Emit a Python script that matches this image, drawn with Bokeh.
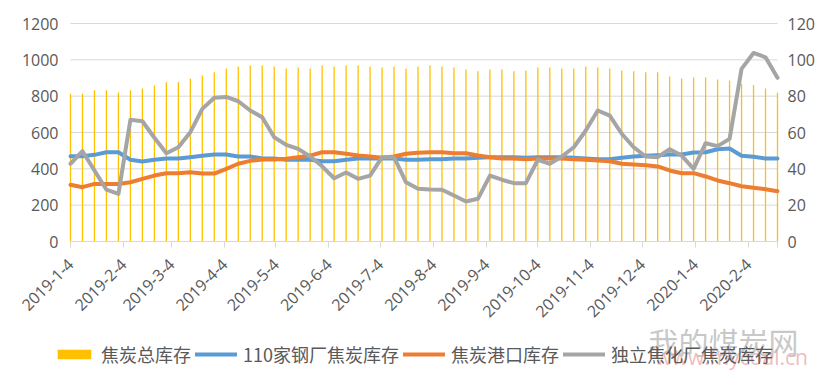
import math
import pandas as pd
from bokeh.plotting import figure
from bokeh.models import (Range1d, LinearAxis, FixedTicker, Legend, LegendItem,
                          Label, ColumnDataSource)
from bokeh.embed import file_html
from bokeh.resources import INLINE

# ---------------- data ----------------
start_date = "2019-01-04"
n_weeks = 60
week_dates = pd.date_range(start_date, periods=n_weeks, freq="7D")

tick_labels = ["2019-1-4", "2019-2-4", "2019-3-4", "2019-4-4", "2019-5-4", "2019-6-4",
               "2019-7-4", "2019-8-4", "2019-9-4", "2019-10-4", "2019-11-4", "2019-12-4",
               "2020-1-4", "2020-2-4"]

total_stock = [813, 813, 833, 833, 820, 833, 842, 859, 877, 877, 897, 914, 932, 952, 963,
               969, 969, 963, 952, 958, 952, 969, 963, 969, 969, 963, 958, 963, 952, 963,
               969, 963, 958, 947, 937, 947, 947, 937, 941, 958, 958, 952, 952, 963, 958,
               952, 941, 937, 932, 932, 908, 897, 903, 903, 892, 886, 868, 862, 842, 820]

steel_110 = [469, 469, 477, 491, 491, 450, 440, 450, 457, 457, 464, 472, 479, 479, 468,
             468, 457, 457, 450, 450, 450, 442, 442, 450, 457, 457, 457, 457, 450, 450,
             453, 453, 457, 457, 461, 464, 464, 464, 461, 464, 464, 464, 461, 457, 453,
             453, 461, 468, 472, 475, 479, 479, 490, 491, 508, 512, 472, 466, 457, 457]

port_stock = [312, 299, 317, 317, 317, 326, 345, 363, 376, 376, 381, 374, 374, 400, 428,
              444, 451, 451, 455, 464, 473, 491, 491, 483, 473, 468, 461, 468, 483, 489,
              491, 491, 486, 486, 473, 464, 457, 457, 453, 457, 457, 457, 453, 450, 446,
              442, 428, 424, 420, 413, 391, 376, 376, 358, 336, 321, 304, 296, 288, 277]

coking_stock = [42.8, 49.7, 39.1, 28.5, 26.2, 67.0, 66.2, 57.1, 48.6, 51.9, 60.2, 73.0, 79.1, 79.6, 77.2,
                72.1, 68.4, 57.4, 53.2, 51.0, 46.8, 41.4, 34.8, 38.0, 34.5, 36.3, 46.4, 46.4, 32.6, 29.0,
                28.6, 28.5, 25.3, 22.0, 23.5, 36.3, 34.0, 32.1, 32.1, 45.0, 42.8, 46.8, 51.9, 61.1, 72.1,
                69.3, 59.3, 51.9, 46.8, 46.4, 50.8, 47.3, 40.0, 54.1, 52.5, 56.5, 95.0, 103.8, 101.4, 90.1]

series_names = ["焦炭总库存", "110家钢厂焦炭库存", "焦炭港口库存", "独立焦化厂焦炭库存"]
watermark_cn = "我的煤炭网"
watermark_url = "www.mycoal.cn"

left_ticks = list(range(0, 1201, 200))
right_ticks = list(range(0, 121, 20))

# ---------------- layout constants (pixels) ----------------
W, H = 816, 370
X0, X1 = 70, 777        # plot area left / right
Y_TOP, Y_ZERO = 23, 241  # plot area top / zero line

t0 = week_dates[0]
x_days = [(d - t0).days for d in week_dates]
tick_pos = [(pd.Timestamp(*map(int, s.split("-"))) - t0).days for s in tick_labels]
end_day = x_days[-1]

kx = (X1 - X0) / end_day
lmax, rmax = left_ticks[-1], right_ticks[-1]
ky = (Y_ZERO - Y_TOP) / lmax
x_range = Range1d(-X0 / kx, end_day + (W - X1) / kx)
y_range = Range1d(-(H - Y_ZERO) / ky, lmax + Y_TOP / ky)
r_scale = rmax / lmax
right_range = Range1d(y_range.start * r_scale, y_range.end * r_scale)

src = ColumnDataSource(dict(x=x_days, total=total_stock, steel=steel_110,
                            port=port_stock, coking=coking_stock))

TXT = "#595959"
GRID = "#D9D9D9"
TICK_FONT = "Open Sans"
CJK_FONT = "Noto Sans CJK SC"

p = figure(frame_width=W, frame_height=H, output_backend="svg", toolbar_location=None,
           x_range=x_range, y_range=y_range,
           min_border_left=0, min_border_right=0, min_border_top=0, min_border_bottom=0)
p.outline_line_color = None
p.background_fill_color = "white"
p.border_fill_color = "white"
p.extra_y_ranges = {"right": right_range}
p.xgrid.grid_line_color = None
p.ygrid.grid_line_color = None

# x axis on the zero line
xa = p.xaxis[0]
xa.fixed_location = 0
xa.bounds = (0, end_day)
xa.ticker = FixedTicker(ticks=tick_pos + [end_day])
xa.major_label_overrides = {**{tp: lab for tp, lab in zip(tick_pos, tick_labels)}, end_day: ""}
xa.major_label_orientation = math.pi / 4
xa.axis_line_color = GRID
xa.major_tick_line_color = GRID
xa.major_tick_out = 6
xa.major_tick_in = 0
xa.minor_tick_line_color = None
xa.major_label_text_font = TICK_FONT
xa.major_label_text_font_size = "16px"
xa.major_label_text_color = TXT
xa.major_label_standoff = 14

ya = p.yaxis[0]
ya.fixed_location = 0
ya.ticker = FixedTicker(ticks=left_ticks)
yr = LinearAxis(y_range_name="right", ticker=FixedTicker(ticks=right_ticks),
                fixed_location=end_day)
p.add_layout(yr, "right")
for ax in (ya, yr):
    ax.axis_line_color = None
    ax.major_tick_line_color = None
    ax.minor_tick_line_color = None
    ax.major_tick_out = 0
    ax.major_tick_in = 0
    ax.minor_tick_out = 0
    ax.minor_tick_in = 0
    ax.major_label_text_font = TICK_FONT
    ax.major_label_text_font_size = "16px"
    ax.major_label_text_color = TXT
ya.major_label_standoff = 12
yr.major_label_standoff = 10

# horizontal grid lines across the plot area only
grid_vals = left_ticks[1:]
p.segment(x0=[0] * len(grid_vals), x1=[end_day] * len(grid_vals), y0=grid_vals,
          y1=grid_vals, line_color=GRID, line_width=1, level="underlay")

# glyphs
r_bar = p.vbar(x="x", top="total", width=0.75, source=src, fill_color="#FFC000",
               line_color=None)
r_steel = p.line("x", "steel", source=src, line_color="#5B9BD5", line_width=4,
                 line_join="round", line_cap="round")
r_port = p.line("x", "port", source=src, line_color="#ED7D31", line_width=4,
                line_join="round", line_cap="round")
r_coke = p.line("x", "coking", source=src, line_color="#A5A5A5", line_width=4,
                line_join="round", line_cap="round", y_range_name="right")

# watermark text (under the legend)
p.add_layout(Label(x=648, y=H - 362, x_units="screen", y_units="screen", text=watermark_cn,
                   text_font=CJK_FONT, text_font_size="30px", text_color="#A8A8A8",
                   text_alpha=0.65))
p.add_layout(Label(x=655, y=0, x_units="screen", y_units="screen", text=watermark_url,
                   text_font=TICK_FONT, text_font_size="21px", text_color="#E8A0A0",
                   text_alpha=0.7))

legend = Legend(items=[LegendItem(label=series_names[0], renderers=[r_bar]),
                       LegendItem(label=series_names[1], renderers=[r_steel]),
                       LegendItem(label=series_names[2], renderers=[r_port]),
                       LegendItem(label=series_names[3], renderers=[r_coke])],
                orientation="horizontal", location=(53, 3),
                glyph_width=42, glyph_height=12, label_standoff=6, spacing=4,
                padding=0, margin=0, border_line_color=None,
                background_fill_alpha=0,
                label_text_font=CJK_FONT, label_text_font_size="18px",
                label_text_color=TXT)
p.add_layout(legend, "center")

open("out.html", "w").write(file_html(p, INLINE))
